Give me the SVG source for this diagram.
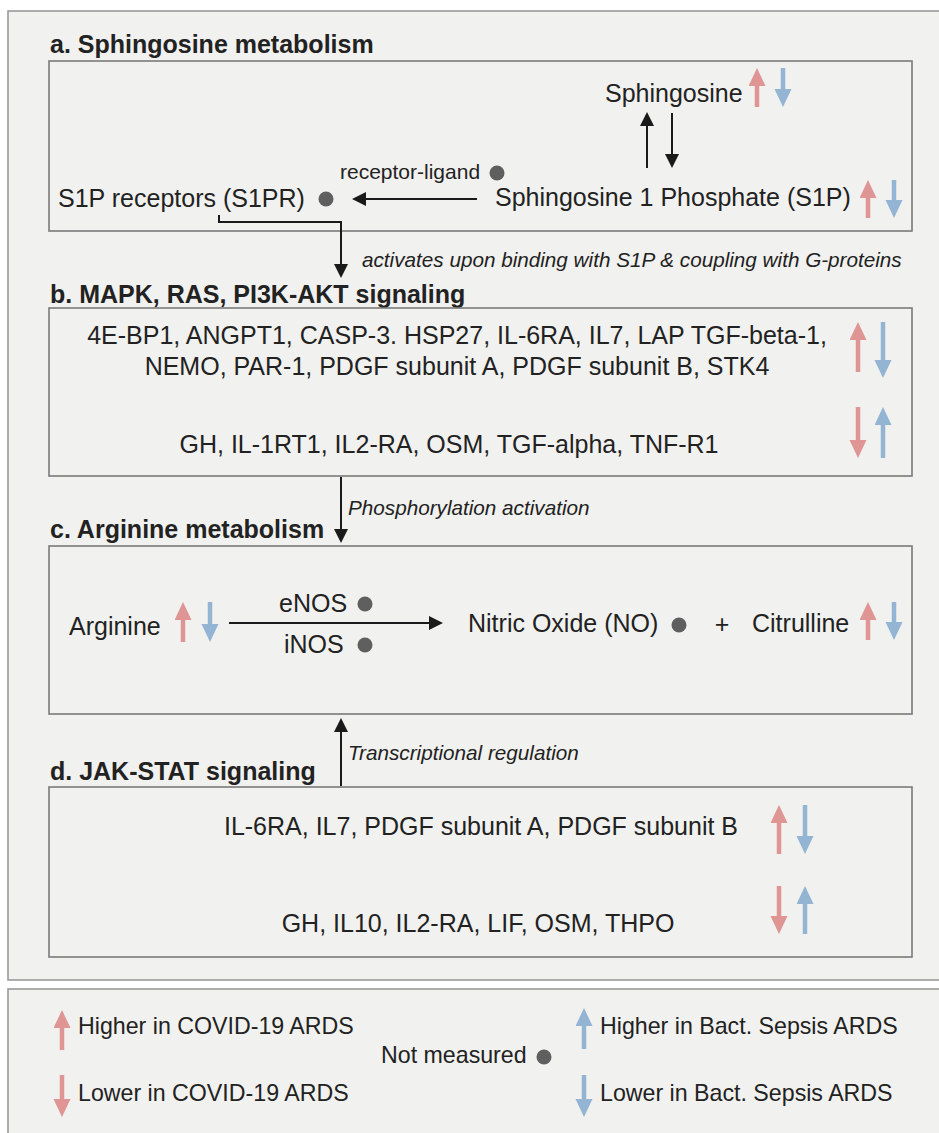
<svg xmlns="http://www.w3.org/2000/svg" width="939" height="1133" viewBox="0 0 939 1133">
<style>
text{font-family:"Liberation Sans",Arial,sans-serif;fill:#222}
.t{font-size:25px;font-weight:bold}
.b{font-size:25px}
.l{font-size:23.2px}
.i{font-size:20.7px;font-style:italic}
.s{font-size:21px}
.box{fill:none;stroke:#7a7a7a;stroke-width:1.6}
.blk{stroke:#1a1a1a;stroke-width:2;fill:none;marker-end:url(#mk)}
.red{stroke:#e09595;stroke-width:4.5;marker-end:url(#mr)}
.blu{stroke:#94b4d3;stroke-width:4.5;marker-end:url(#mb)}
.dot{fill:#5f5f5f}
</style>
<defs>
<marker id="mk" markerUnits="userSpaceOnUse" markerWidth="16" markerHeight="16" refX="1" refY="7" orient="auto"><path d="M0,0 L14,7 L0,14 z" fill="#1a1a1a"/></marker>
<marker id="mr" markerUnits="userSpaceOnUse" markerWidth="20" markerHeight="20" refX="2" refY="8.5" orient="auto"><path d="M0,0 L18,8.5 L0,17 z" fill="#e09595"/></marker>
<marker id="mb" markerUnits="userSpaceOnUse" markerWidth="20" markerHeight="20" refX="2" refY="8.5" orient="auto"><path d="M0,0 L18,8.5 L0,17 z" fill="#94b4d3"/></marker>
</defs>
<rect width="939" height="1133" fill="#ffffff"/>
<rect x="8" y="11" width="940" height="969" fill="#f1f1ef" stroke="#9a9a9a" stroke-width="1.6"/>
<rect x="8" y="989" width="940" height="160" fill="#f1f1ef" stroke="#9a9a9a" stroke-width="1.6"/>

<g id="section-a">
<text class="t" x="50" y="53">a. Sphingosine metabolism</text>
<rect class="box" x="49" y="61" width="863" height="170"/>
</g>
<g id="sphingosine">
<text class="b" x="605" y="102">Sphingosine</text>
<line class="red" x1="757" y1="107" x2="757" y2="84"/>
<line class="blu" x1="783" y1="68" x2="783" y2="91"/>
</g>
<g id="s1p">
<text class="b" x="495" y="206">Sphingosine 1 Phosphate (S1P)</text>
<line class="red" x1="868" y1="218" x2="868" y2="196"/>
<line class="blu" x1="894" y1="180" x2="894" y2="202"/>
</g>
<g id="s1pr">
<text class="b" x="58" y="207">S1P receptors (S1PR)</text>
<circle class="dot" cx="326" cy="199" r="7.5"/>
</g>

<g id="section-b">
<text class="t" x="50" y="303">b. MAPK, RAS, PI3K-AKT signaling</text>
<rect class="box" x="49" y="308" width="863" height="168"/>
<text class="b" x="457" y="344" text-anchor="middle">4E-BP1, ANGPT1, CASP-3. HSP27, IL-6RA, IL7, LAP TGF-beta-1,</text>
<text class="b" x="457" y="375" text-anchor="middle">NEMO, PAR-1, PDGF subunit A, PDGF subunit B, STK4</text>
<line class="red" x1="858" y1="372" x2="858" y2="338"/>
<line class="blu" x1="883" y1="322" x2="883" y2="362"/>
<text class="b" x="449" y="453" text-anchor="middle">GH, IL-1RT1, IL2-RA, OSM, TGF-alpha, TNF-R1</text>
<line class="red" x1="858" y1="407" x2="858" y2="442"/>
<line class="blu" x1="883" y1="458" x2="883" y2="423"/>
</g>

<g id="section-c">
<text class="t" x="50" y="538">c. Arginine metabolism</text>
<rect class="box" x="49" y="546" width="863" height="168"/>
</g>
<g id="arginine">
<text class="b" x="69" y="635">Arginine</text>
<line class="red" x1="183" y1="642" x2="183" y2="618"/>
<line class="blu" x1="210" y1="602" x2="210" y2="626"/>
</g>
<g id="enos">
<text class="b" x="279" y="612">eNOS</text>
<circle class="dot" cx="365" cy="604" r="7.5"/>
</g>
<g id="inos">
<text class="b" x="284" y="653">iNOS</text>
<circle class="dot" cx="365" cy="645" r="7.5"/>
</g>
<g id="no">
<text class="b" x="468" y="632">Nitric Oxide (NO)</text>
<circle class="dot" cx="679" cy="625" r="7.5"/>
<text class="b" x="722" y="633" text-anchor="middle">+</text>
</g>
<g id="citrulline">
<text class="b" x="752" y="632">Citrulline</text>
<line class="red" x1="868" y1="640" x2="868" y2="618"/>
<line class="blu" x1="894" y1="602" x2="894" y2="624"/>
</g>

<g id="section-d">
<text class="t" x="50" y="780">d. JAK-STAT signaling</text>
<rect class="box" x="49" y="787" width="863" height="170"/>
<text class="b" x="481" y="835" text-anchor="middle">IL-6RA, IL7, PDGF subunit A, PDGF subunit B</text>
<line class="red" x1="779" y1="854" x2="779" y2="821"/>
<line class="blu" x1="805" y1="805" x2="805" y2="838"/>
<text class="b" x="478" y="932" text-anchor="middle">GH, IL10, IL2-RA, LIF, OSM, THPO</text>
<line class="red" x1="779" y1="886" x2="779" y2="918"/>
<line class="blu" x1="805" y1="934" x2="805" y2="902"/>
</g>

<g id="connectors">
<line class="blk" x1="647" y1="168" x2="647" y2="125"/>
<line class="blk" x1="672" y1="113" x2="672" y2="155"/>
<line class="blk" x1="477" y1="199" x2="365" y2="199"/>
<text class="s" x="340" y="179">receptor-ligand</text>
<circle class="dot" cx="497" cy="173" r="7.5"/>
<path class="blk" d="M219,215 V222 H341 V265"/>
<text class="i" x="362" y="267">activates upon binding with S1P &amp; coupling with G-proteins</text>
<line class="blk" x1="341" y1="477" x2="341" y2="530"/>
<text class="i" x="348" y="515">Phosphorylation activation</text>
<line class="blk" x1="229" y1="623" x2="430" y2="623"/>
<line class="blk" x1="341" y1="786" x2="341" y2="731"/>
<text class="i" x="348" y="760">Transcriptional regulation</text>
</g>

<g id="legend">
<line class="red" x1="62" y1="1050" x2="62" y2="1026"/>
<text class="l" x="78" y="1034">Higher in COVID-19 ARDS</text>
<line class="red" x1="62" y1="1075" x2="62" y2="1101"/>
<text class="l" x="78" y="1101">Lower in COVID-19 ARDS</text>
<text class="l" x="381" y="1063">Not measured</text>
<circle class="dot" cx="544" cy="1057" r="7.5"/>
<line class="blu" x1="584" y1="1049" x2="584" y2="1024"/>
<text class="l" x="600" y="1034">Higher in Bact. Sepsis ARDS</text>
<line class="blu" x1="584" y1="1075" x2="584" y2="1101"/>
<text class="l" x="600" y="1101">Lower in Bact. Sepsis ARDS</text>
</g>
</svg>
